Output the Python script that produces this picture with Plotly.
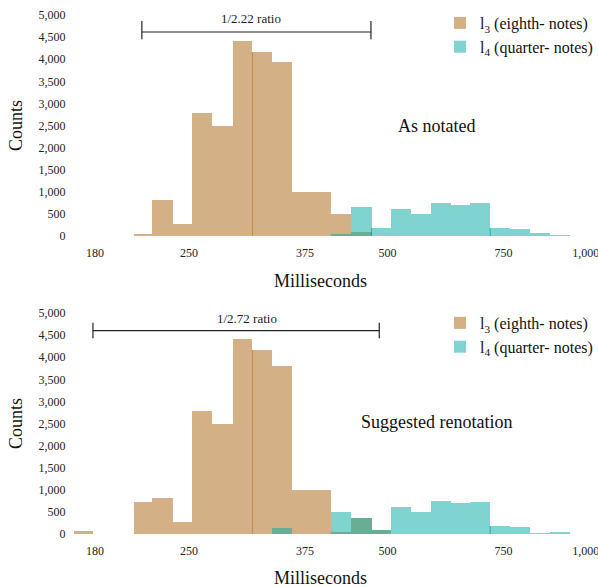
import numpy as np
import plotly.graph_objects as go

# ---------------- data ----------------
# histogram bin edges (ms), 1/10-octave bins
bin_edges_ms = [167, 179, 192, 206, 220, 236, 253, 271, 291, 312, 334, 358, 384,
                411, 441, 473, 506, 543, 582, 624, 668, 716, 768, 823, 882, 945]

# "As notated"
top_l3 = [0, 0, 0, 40, 815, 270, 2776, 2489, 4412, 4163, 3937, 995, 995, 500, 90,
          0, 0, 0, 0, 0, 0, 0, 0, 0, 0]
top_l4 = [0, 0, 0, 0, 0, 0, 0, 0, 0, 0, 0, 0, 0, 45, 656,
          181, 611, 505, 747, 701, 747, 181, 158, 68, 23]

# "Suggested renotation"
bot_l3 = [68, 0, 0, 724, 815, 271, 2783, 2489, 4412, 4163, 3801, 995, 995, 45, 362,
          90, 0, 0, 0, 0, 0, 0, 0, 0, 0]
bot_l4 = [0, 0, 0, 0, 0, 0, 0, 0, 0, 0, 136, 0, 0, 498, 362,
          90, 611, 498, 747, 701, 724, 181, 158, 23, 45]

tick_ms = [180, 250, 375, 500, 750, 1000]
tick_text = ["180", "250", "375", "500", "750", "1,000"]

bracket_top_ms = [212, 472]
bracket_bot_ms = [178.7, 486]
ratio_top = "1/2.22 ratio"
ratio_bot = "1/2.72 ratio"

series_names = ["l<sub>3</sub> (eighth- notes)", "l<sub>4</sub> (quarter- notes)"]
panel_titles = ["As notated", "Suggested renotation"]

# ---------------- style ----------------
FONT = "Liberation Serif"
TAN = "rgba(168,97,12,0.5)"
TEAL = "rgba(0,170,166,0.5)"
TAN_SEAM = "rgb(200,140,72)"
TEAL_SEAM = "rgba(0,165,162,0.75)"

W, H = 598, 587
ML, MR, MT, MB = 72, 10, 15, 53
PX_PER_DEC = 659.0
xr = [(ML + 1391.2) / PX_PER_DEC, (W - MR + 1391.2) / PX_PER_DEC]

edges = np.log10(np.array(bin_edges_ms, dtype=float))
centers = (edges[:-1] + edges[1:]) / 2
widths = edges[1:] - edges[:-1]

fig = go.Figure()

panels = [
    dict(l3=top_l3, l4=top_l4, xa="x", ya="y", leg="legend", title=panel_titles[0],
         br=bracket_top_ms, rt=ratio_top, seams=[("l3", 9), ("l4", 15), ("l4", 21)],
         lab_ms=310.5, lab_y=4910, br_y=4615, tk=(4864, 4450), title_ms=594, title_y=2489),
    dict(l3=bot_l3, l4=bot_l4, xa="x2", ya="y2", leg="legend2", title=panel_titles[1],
         br=bracket_bot_ms, rt=ratio_bot, seams=[("l3", 9), ("l4", 21)],
         lab_ms=305.8, lab_y=4880, br_y=4600, tk=(4780, 4430), title_ms=593, title_y=2541),
]

shapes = []
annotations = []
for p in panels:
    for name, vals, col in [(series_names[0], p["l3"], TAN), (series_names[1], p["l4"], TEAL)]:
        fig.add_trace(go.Bar(
            x=centers, y=vals, width=widths, name=name,
            marker=dict(color=col, line=dict(width=0)),
            xaxis=p["xa"], yaxis=p["ya"], legend=p["leg"], showlegend=True,
        ))
    xref, yref = p["xa"], p["ya"]
    # seams between semi-transparent adjacent bars
    for which, k in p["seams"]:
        vals = p["l3"] if which == "l3" else p["l4"]
        h = min(vals[k - 1], vals[k])
        shapes.append(dict(type="line", xref=xref, yref=yref, x0=edges[k], x1=edges[k],
                           y0=0, y1=h,
                           line=dict(color=TAN_SEAM if which == "l3" else TEAL_SEAM, width=1)))
    # ratio bracket
    bl, br = np.log10(p["br"][0]), np.log10(p["br"][1])
    shapes.append(dict(type="line", xref=xref, yref=yref, x0=bl, x1=br, y0=p["br_y"], y1=p["br_y"],
                       line=dict(color="#222", width=1.2)))
    for xx in (bl, br):
        shapes.append(dict(type="line", xref=xref, yref=yref, x0=xx, x1=xx,
                           y0=p["tk"][0], y1=p["tk"][1], line=dict(color="#222", width=1.2)))
    annotations.append(dict(x=np.log10(p["lab_ms"]), y=p["lab_y"], xref=xref, yref=yref,
                            text=p["rt"], showarrow=False,
                            font=dict(family=FONT, size=13, color="#222")))
    annotations.append(dict(x=np.log10(p["title_ms"]), y=p["title_y"], xref=xref, yref=yref,
                            text=p["title"], showarrow=False,
                            font=dict(family=FONT, size=18, color="#111")))

PH = H - MT - MB
top_dom = [(H - MB - 236) / PH, 1.0]
bot_dom = [0.0, (H - MB - 313) / PH]

def px_to_paper_y(py):
    return (H - MB - py) / PH

def px_to_paper_x(px):
    return (px - ML) / (W - ML - MR)

# axis titles
for ycen_px, xt_px in [(125.5, 280.5), (423.5, 578)]:
    annotations.append(dict(x=px_to_paper_x(15.5), y=px_to_paper_y(ycen_px), xref="paper", yref="paper",
                            text="Counts", textangle=-90, showarrow=False,
                            xanchor="center", yanchor="middle",
                            font=dict(family=FONT, size=18, color="#111")))
    annotations.append(dict(x=px_to_paper_x(320.5), y=px_to_paper_y(xt_px), xref="paper", yref="paper",
                            text="Milliseconds", showarrow=False, xanchor="center", yanchor="middle",
                            font=dict(family=FONT, size=18, color="#111")))

xcommon = dict(range=xr, tickvals=list(np.log10(tick_ms)), ticktext=tick_text,
               showgrid=False, zeroline=False, showline=False, automargin=False,
               ticklabeloverflow="allow",
               ticks="outside", ticklen=6, tickcolor="rgba(0,0,0,0)",
               tickfont=dict(family=FONT, size=12, color="#222"))
ycommon = dict(range=[0, 5000], dtick=500, tickformat=",d",
               showgrid=False, zeroline=False, showline=False, automargin=False,
               ticks="outside", ticklen=3, tickcolor="rgba(0,0,0,0)",
               tickfont=dict(family=FONT, size=12, color="#222"))

legcommon = dict(font=dict(family=FONT, size=16, color="#111"), bgcolor="rgba(0,0,0,0)",
                 xanchor="left", yanchor="top", tracegroupgap=0, itemclick=False)

fig.update_layout(
    width=W, height=H, margin=dict(l=ML, r=MR, t=MT, b=MB, autoexpand=False),
    paper_bgcolor="white", plot_bgcolor="white",
    barmode="overlay", bargap=0,
    xaxis=dict(domain=[0, 1], anchor="y", **xcommon),
    yaxis=dict(domain=top_dom, anchor="x", **ycommon),
    xaxis2=dict(domain=[0, 1], anchor="y2", **xcommon),
    yaxis2=dict(domain=bot_dom, anchor="x2", **ycommon),
    legend=dict(x=px_to_paper_x(440), y=px_to_paper_y(6), **legcommon),
    legend2=dict(x=px_to_paper_x(440), y=px_to_paper_y(306), **legcommon),
    shapes=shapes, annotations=annotations,
    font=dict(family=FONT),
)

fig.write_html("out.html", config={"displayModeBar": False},
               post_script="document.body.style.margin='0';document.body.style.overflow='hidden';")
